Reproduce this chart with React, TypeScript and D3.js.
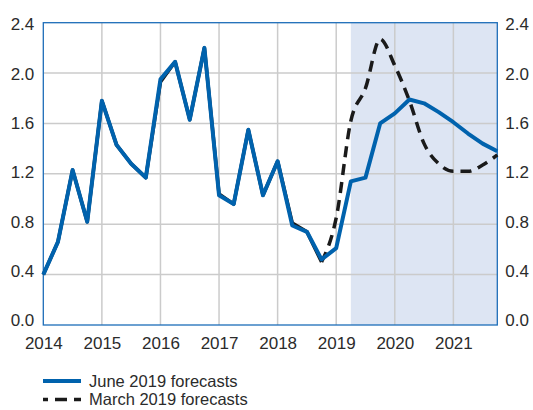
import * as d3 from "d3";
import React, { useRef, useEffect } from "react";

const quarters = [
    "2014Q1", "2014Q2", "2014Q3", "2014Q4",
    "2015Q1", "2015Q2", "2015Q3", "2015Q4",
    "2016Q1", "2016Q2", "2016Q3", "2016Q4",
    "2017Q1", "2017Q2", "2017Q3", "2017Q4",
    "2018Q1", "2018Q2", "2018Q3", "2018Q4",
    "2019Q1", "2019Q2", "2019Q3", "2019Q4",
    "2020Q1", "2020Q2", "2020Q3", "2020Q4",
    "2021Q1", "2021Q2", "2021Q3", "2021Q4",
];

const june2019 = [
    0.40, 0.66, 1.23, 0.82,
    1.78, 1.43, 1.28, 1.17,
    1.95, 2.09, 1.63, 2.20,
    1.03, 0.96, 1.55, 1.03,
    1.30, 0.79, 0.74, 0.52,
    0.61, 1.14, 1.17, 1.60,
    1.68, 1.79, 1.76, 1.69,
    1.61, 1.52, 1.44, 1.38,
];

const march2019 = [
    0.40, 0.66, 1.23, 0.82,
    1.78, 1.43, 1.28, 1.17,
    1.93, 2.09, 1.63, 2.20,
    1.04, 0.96, 1.55, 1.03,
    1.30, 0.81, 0.74, 0.50,
    0.85, 1.62, 1.88, 2.27,
    2.06, 1.78, 1.44, 1.28,
    1.22, 1.22, 1.27, 1.35,
];

// where the March line stops following the history and turns into a smooth projection
const marchSplit = "2018Q4";
const shadeStart = "2019Q2";

const yearTicks = [2014, 2015, 2016, 2017, 2018, 2019, 2020, 2021];
const valueTicks = [0.0, 0.4, 0.8, 1.2, 1.6, 2.0, 2.4];

const legendLabels = ["June 2019 forecasts", "March 2019 forecasts"];

const BLUE = "#0062ad";
const TEXT = "#2b2b2b";
const FONT = "'Liberation Sans', Arial, sans-serif";

function toTime(q: string) {
    return +q.slice(0, 4) + (+q.slice(5) - 1) / 4;
}

function ForecastChart() {
    const ref = useRef<SVGSVGElement>(null);

    useEffect(() => {
        const svg = d3.select(ref.current);
        svg.selectAll("*").remove();

        const left = 43.3, right = 497.3, top = 22.7, bottom = 325;

        const x = d3.scaleLinear()
            .domain([toTime(quarters[0]), toTime(quarters[quarters.length - 1])])
            .range([left, right]);

        const y = d3.scaleLinear()
            .domain([0, 2.4])
            .range([bottom, top]);

        // the value labels in the original sit on a slightly tighter spacing than the grid
        const yLabels = d3.scaleLinear()
            .domain([0, 2.4])
            .range([bottom - 4.5, top + 1.6]);

        // projection shading
        svg.append("rect")
            .attr("x", x(toTime(shadeStart)))
            .attr("y", top)
            .attr("width", right - x(toTime(shadeStart)))
            .attr("height", bottom - top)
            .attr("fill", "#dde5f3");

        // grid
        svg.append("g")
            .selectAll("line")
            .data(yearTicks.slice(1))
            .enter().append("line")
            .attr("x1", d => x(d)).attr("x2", d => x(d))
            .attr("y1", top).attr("y2", bottom)
            .attr("stroke", "#cbcbcb")
            .attr("stroke-width", 1.5);

        svg.append("g")
            .selectAll("line")
            .data(valueTicks.slice(1, -1))
            .enter().append("line")
            .attr("x1", left).attr("x2", right)
            .attr("y1", d => y(d)).attr("y2", d => y(d))
            .attr("stroke", "#cbcbcb")
            .attr("stroke-width", 1.5);

        // frame
        svg.append("rect")
            .attr("x", left).attr("y", top)
            .attr("width", right - left).attr("height", bottom - top)
            .attr("fill", "none")
            .attr("stroke", "#1d6db8")
            .attr("stroke-width", 1.3);

        // axis labels
        const yLeft = d3.axisLeft(yLabels).tickValues(valueTicks).tickFormat(d3.format(".1f")).tickSize(0).tickPadding(9);
        const yRight = d3.axisRight(yLabels).tickValues(valueTicks).tickFormat(d3.format(".1f")).tickSize(0).tickPadding(8);
        const xAxis = d3.axisBottom(x).tickValues(yearTicks).tickFormat(d3.format("d")).tickSize(0).tickPadding(12);

        const styleAxis = (g: any) => {
            g.select(".domain").remove();
            g.selectAll("text")
                .attr("fill", TEXT)
                .style("font-family", FONT)
                .style("font-size", "17px");
        };

        svg.append("g").attr("transform", `translate(${left},0)`).call(yLeft).call(styleAxis);
        svg.append("g").attr("transform", `translate(${right},0)`).call(yRight).call(styleAxis);
        svg.append("g").attr("transform", `translate(0,${bottom})`).call(xAxis).call(styleAxis);

        const split = quarters.indexOf(marchSplit);
        const pts = (vals: number[]) => vals.map((v, i) => [x(toTime(quarters[i])), y(v)] as [number, number]);

        const lineLinear = d3.line();
        const lineSmooth = d3.line().curve(d3.curveMonotoneX);

        const marchPts = pts(march2019);

        // March 2019 forecasts (drawn first, June sits on top)
        svg.append("path")
            .attr("d", lineLinear(marchPts.slice(0, split + 1)))
            .attr("fill", "none")
            .attr("stroke", "#1a1a1a")
            .attr("stroke-width", 3.5)
            .attr("stroke-linejoin", "round");

        svg.append("path")
            .attr("d", lineSmooth(marchPts.slice(split)))
            .attr("fill", "none")
            .attr("stroke", "#1a1a1a")
            .attr("stroke-width", 3.5)
            .attr("stroke-dasharray", "11,7");

        // June 2019 forecasts
        svg.append("path")
            .attr("d", lineLinear(pts(june2019)))
            .attr("fill", "none")
            .attr("stroke", BLUE)
            .attr("stroke-width", 4)
            .attr("stroke-linejoin", "round");

        // legend
        const legend = svg.append("g")
            .selectAll("g")
            .data(legendLabels)
            .enter().append("g")
            .attr("transform", (d, i) => `translate(0,${381 + i * 18.5})`);

        legend.append("line")
            .attr("x1", 43).attr("x2", 81)
            .attr("y1", 0).attr("y2", 0)
            .attr("stroke", (d, i) => i === 0 ? BLUE : "#1a1a1a")
            .attr("stroke-width", (d, i) => i === 0 ? 4 : 3.5)
            .attr("stroke-dasharray", (d, i) => i === 0 ? null : "12,7")
            .attr("stroke-dashoffset", 7);

        legend.append("text")
            .text(d => d)
            .attr("x", 89)
            .attr("y", 5.5)
            .attr("fill", TEXT)
            .style("font-family", FONT)
            .style("font-size", "16.5px");

    }, []);

    return (
        <svg ref={ref} width={533} height={410}
            style={{ position: "absolute", left: 0, top: 0, background: "#fff" }} />
    );
}

export default function App() {
    return <ForecastChart />;
}
